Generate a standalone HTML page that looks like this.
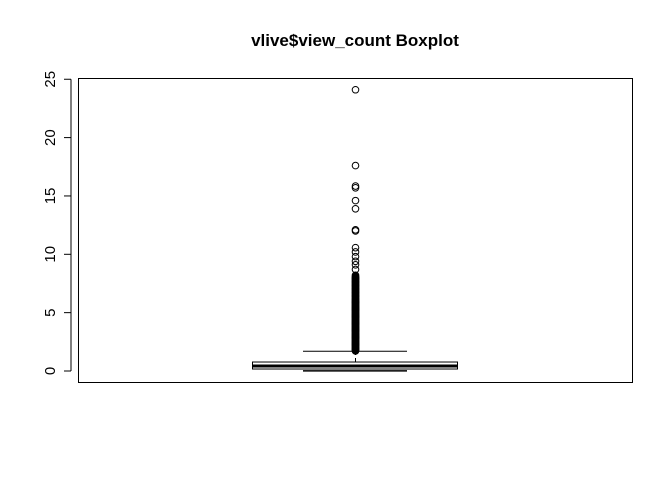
<!DOCTYPE html>
<html><head><meta charset="utf-8"><style>
html,body{margin:0;padding:0;background:#fff;}
svg{display:block;font-family:"Liberation Sans",sans-serif;}
</style></head><body>
<svg id="chart" width="672" height="480">
<text x="355" y="46" text-anchor="middle" font-weight="bold" font-size="17">vlive$view_count Boxplot</text>
<rect x="78.5" y="78.5" width="554" height="304" fill="none" stroke="#000"/>
<g id="yaxis"></g>
<g id="box"></g>
</svg>
<script>
const yTicks=[0,5,10,15,20,25];
const stats=[0.05,0.17,0.43,0.77,1.69];
const outliers=[1.72,1.76,1.8,1.84,1.88,1.92,1.96,2.0,2.04,2.08,2.12,2.16,2.2,2.24,2.28,2.32,2.36,2.4,2.44,2.48,2.52,2.56,2.6,2.64,2.68,2.72,2.76,2.8,2.84,2.88,2.92,2.96,3.0,3.04,3.08,3.12,3.16,3.2,3.24,3.28,3.32,3.36,3.4,3.44,3.48,3.52,3.56,3.6,3.64,3.68,3.72,3.76,3.8,3.84,3.88,3.92,3.96,4.0,4.04,4.08,4.12,4.16,4.2,4.24,4.28,4.32,4.36,4.4,4.44,4.48,4.52,4.56,4.6,4.64,4.68,4.72,4.76,4.8,4.84,4.88,4.92,4.96,5.0,5.04,5.08,5.12,5.16,5.2,5.24,5.28,5.32,5.36,5.4,5.44,5.48,5.52,5.56,5.6,5.64,5.68,5.72,5.76,5.8,5.84,5.88,5.92,5.96,6.0,6.05,6.1,6.15,6.2,6.25,6.3,6.35,6.4,6.45,6.5,6.55,6.6,6.65,6.7,6.75,6.8,6.85,6.9,6.95,7.0,7.05,7.1,7.15,7.2,7.25,7.3,7.35,7.4,7.45,7.5,7.55,7.6,7.65,7.7,7.75,7.8,7.85,7.9,7.95,8.0,8.05,8.1,8.2,8.7,9.1,9.4,9.8,10.2,10.57,12.0,12.1,13.9,14.6,15.7,15.85,17.6,24.1];
const NS="http://www.w3.org/2000/svg";
const y=v=>371-11.67*v;
const cx=355.5;
function mk(t,a,p){const e=document.createElementNS(NS,t);for(const k in a)e.setAttribute(k,a[k]);p.appendChild(e);return e;}
const ya=document.getElementById('yaxis');
const l0=mk('line',{x1:71,x2:71,y1:y(yTicks[0]),y2:y(yTicks[yTicks.length-1]),stroke:'#000'},ya);


yTicks.forEach(v=>{
 const t=mk('line',{x1:64,x2:71,y1:y(v),y2:y(v),stroke:'#000'},ya);
 
 
 const tx=mk('text',{x:0,y:0,'font-size':15,'text-anchor':'middle',transform:`translate(55,${y(v)}) rotate(-90)`},ya);
 tx.textContent=v;
 
 
});
const b=document.getElementById('box');
const [lo,q1,med,q3,hi]=stats;
const r=mk('rect',{x:252.5,y:y(q3),width:205,height:y(q1)-y(q3),fill:'none',stroke:'#000'},b);


const m=mk('line',{x1:252.5,x2:457.5,y1:y(med),y2:y(med),stroke:'#000','stroke-width':3},b);


const w1=mk('line',{x1:cx,x2:cx,y1:y(q3),y2:y(hi),stroke:'#000','stroke-dasharray':'4,3'},b);


const c1=mk('line',{x1:303,x2:407,y1:y(hi),y2:y(hi),stroke:'#000'},b);


const c2=mk('line',{x1:303,x2:407,y1:y(lo)+0.5,y2:y(lo)+0.5,stroke:'#000','stroke-width':1.5},b);


outliers.forEach(v=>{
 const c=mk('circle',{cx:cx,cy:y(v),r:3.3,fill:'none',stroke:'#000'},b);
 
 
});
</script>
</body></html>
